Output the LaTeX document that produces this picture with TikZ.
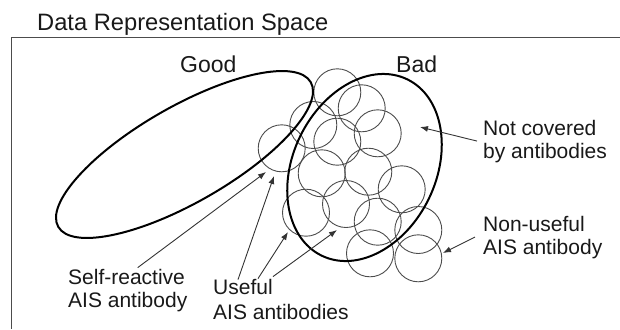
\documentclass[tikz,border=0pt]{standalone}
\usepackage{fontspec}
\setmainfont{Liberation Sans}
\usetikzlibrary{arrows.meta,shapes.geometric}
\begin{document}
\begin{tikzpicture}[x=1bp,y=-1bp,
  lbl/.style={font=\fontsize{21bp}{23bp}\selectfont, align=left, inner sep=0pt, anchor=base west, text=black!90},
  ttl/.style={font=\fontsize{23bp}{27bp}\selectfont, inner sep=0pt, anchor=base west, text=black!90},
  ab/.style={circle, draw=black!70, line width=0.9bp, minimum size=47bp, inner sep=0pt},
  region/.style={ellipse, draw=black, line width=2bp, inner sep=0pt},
  ptr/.style={draw=black!80, line width=0.9bp, -{Latex[length=8bp,width=6bp]}},
  framel/.style={draw=black!70, line width=1bp}]
\useasboundingbox (0,0) rectangle (620,329);
% frame
\coordinate (ftl) at (11,37.5);
\coordinate (ftr) at (620,37.5);
\coordinate (fbl) at (11,329);
\draw[framel] (ftr) -- (ftl) -- (fbl);
\node[ttl, font=\fontsize{23.7bp}{27bp}\selectfont] (title) at (37,30) {Data Representation Space};
% antibodies
\node[ab] (c1) at (337.3,92.3) {};
\node[ab] (c2) at (361.7,108.3) {};
\node[ab] (c3) at (313.3,125) {};
\node[ab] (c4) at (377.7,133.3) {};
\node[ab] (c5) at (337.3,141.7) {};
\node[ab] (c6) at (281.7,148.3) {};
\node[ab] (c7) at (321.7,173.3) {};
\node[ab] (c8) at (368.3,171.7) {};
\node[ab] (c9) at (401.7,189.3) {};
\node[ab] (c10) at (306,212.7) {};
\node[ab] (c11) at (346,204) {};
\node[ab] (c12) at (377.7,221.7) {};
\node[ab] (c13) at (418.3,230) {};
\node[ab] (c14) at (370,253.3) {};
\node[ab] (c15) at (418.3,258.3) {};
% regions
\node[region, minimum width=291bp, minimum height=96bp, rotate=29.8] (good) at (184.5,154.5) {};
\node[region, minimum width=196bp, minimum height=143bp, rotate=64.1] (bad) at (364.5,167.5) {};
\node[ttl] (goodl) at (180,72) {Good};
\node[ttl] (badl) at (396,72) {Bad};
% labels (anchored at the baseline of the last line)
\node[lbl] (nc) at (483,158) {Not covered\\by antibodies};
\node[lbl] (nu) at (483,254) {Non-useful\\AIS antibody};
\node[lbl] (sr) at (68,307) {Self-reactive\\AIS antibody};
\node[lbl] (us) at (213,319) {Useful\\[2bp]AIS antibodies};
% arrow targets
\coordinate (tnc) at (420,127);
\coordinate (tnu) at (443,253);
\coordinate (tsr) at (266,172);
\coordinate (tus1) at (274,176);
\coordinate (tus2) at (288,232);
\coordinate (tus3) at (337,230);
\draw[ptr] ([xshift=-6bp]nc.west) -- (tnc);
\draw[ptr] ([xshift=-8bp]nu.west) -- (tnu);
\draw[ptr] ([xshift=10bp,yshift=1bp]sr.north) -- (tsr);
\draw[ptr] ([xshift=25bp,yshift=-1bp]us.north west) -- (tus1);
\draw[ptr] ([xshift=45bp]us.north west) -- (tus2);
\draw[ptr] ([xshift=60bp,yshift=2bp]us.north west) -- (tus3);
\end{tikzpicture}
\end{document}
